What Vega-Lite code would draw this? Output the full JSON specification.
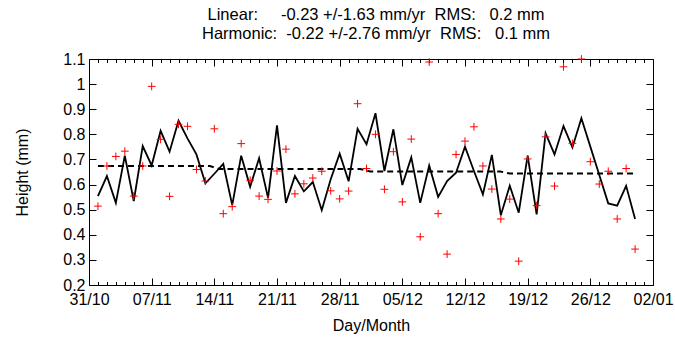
{
  "$schema": "https://vega.github.io/schema/vega-lite/v6.json",
  "width": 564,
  "height": 226,
  "autosize": {"type": "none"},
  "padding": {"left": 89, "top": 59, "right": 22, "bottom": 53},
  "config": {
    "font": "Liberation Sans",
    "view": {"stroke": "black", "strokeWidth": 1},
    "axis": {
      "domain": false,
      "grid": false,
      "labelColor": "black",
      "titleColor": "black",
      "tickColor": "black",
      "labelFontSize": 16,
      "titleFontSize": 16,
      "titleFontWeight": "normal",
      "labelPadding": 11,
      "labelOverlap": false,
      "labelFlush": false,
      "labelBound": false
    }
  },
  "title": {
    "text": [
      "Linear:\u00a0\u00a0\u00a0\u00a0\u00a0-0.23 +/-1.63 mm/yr\u00a0\u00a0RMS:\u00a0\u00a0\u00a00.2 mm",
      "Harmonic:\u00a0\u00a0-0.22 +/-2.76 mm/yr\u00a0\u00a0RMS:\u00a0\u00a0\u00a00.1 mm"
    ],
    "fontSize": 16.5,
    "fontWeight": "normal",
    "color": "black",
    "anchor": "middle",
    "frame": "group",
    "lineHeight": 19,
    "offset": 9,
    "dx": 5
  },
  "datasets": {
    "obs": [
      {"date": "2012-11-01", "height": 0.514},
      {"date": "2012-11-02", "height": 0.674},
      {"date": "2012-11-03", "height": 0.712},
      {"date": "2012-11-04", "height": 0.733},
      {"date": "2012-11-05", "height": 0.554},
      {"date": "2012-11-06", "height": 0.674},
      {"date": "2012-11-07", "height": 0.991},
      {"date": "2012-11-08", "height": 0.78},
      {"date": "2012-11-09", "height": 0.553},
      {"date": "2012-11-10", "height": 0.84},
      {"date": "2012-11-11", "height": 0.832},
      {"date": "2012-11-12", "height": 0.66},
      {"date": "2012-11-13", "height": 0.614},
      {"date": "2012-11-14", "height": 0.822},
      {"date": "2012-11-15", "height": 0.484},
      {"date": "2012-11-16", "height": 0.512},
      {"date": "2012-11-17", "height": 0.763},
      {"date": "2012-11-18", "height": 0.617},
      {"date": "2012-11-19", "height": 0.554},
      {"date": "2012-11-20", "height": 0.541},
      {"date": "2012-11-21", "height": 0.654},
      {"date": "2012-11-22", "height": 0.741},
      {"date": "2012-11-23", "height": 0.563},
      {"date": "2012-11-24", "height": 0.603},
      {"date": "2012-11-25", "height": 0.626},
      {"date": "2012-11-26", "height": 0.653},
      {"date": "2012-11-27", "height": 0.575},
      {"date": "2012-11-28", "height": 0.543},
      {"date": "2012-11-29", "height": 0.574},
      {"date": "2012-11-30", "height": 0.922},
      {"date": "2012-12-01", "height": 0.664},
      {"date": "2012-12-02", "height": 0.8},
      {"date": "2012-12-03", "height": 0.581},
      {"date": "2012-12-04", "height": 0.731},
      {"date": "2012-12-05", "height": 0.531},
      {"date": "2012-12-06", "height": 0.781},
      {"date": "2012-12-07", "height": 0.392},
      {"date": "2012-12-08", "height": 1.088},
      {"date": "2012-12-09", "height": 0.484},
      {"date": "2012-12-10", "height": 0.323},
      {"date": "2012-12-11", "height": 0.72},
      {"date": "2012-12-12", "height": 0.773},
      {"date": "2012-12-13", "height": 0.83},
      {"date": "2012-12-14", "height": 0.674},
      {"date": "2012-12-15", "height": 0.582},
      {"date": "2012-12-16", "height": 0.463},
      {"date": "2012-12-17", "height": 0.542},
      {"date": "2012-12-18", "height": 0.295},
      {"date": "2012-12-19", "height": 0.702},
      {"date": "2012-12-20", "height": 0.516},
      {"date": "2012-12-21", "height": 0.79},
      {"date": "2012-12-22", "height": 0.594},
      {"date": "2012-12-23", "height": 1.069},
      {"date": "2012-12-24", "height": 0.764},
      {"date": "2012-12-25", "height": 1.1},
      {"date": "2012-12-26", "height": 0.691},
      {"date": "2012-12-27", "height": 0.602},
      {"date": "2012-12-28", "height": 0.653},
      {"date": "2012-12-29", "height": 0.463},
      {"date": "2012-12-30", "height": 0.664},
      {"date": "2012-12-31", "height": 0.343}
    ],
    "harmonic": [
      {"date": "2012-11-01", "height": 0.554},
      {"date": "2012-11-02", "height": 0.634},
      {"date": "2012-11-03", "height": 0.527},
      {"date": "2012-11-04", "height": 0.715},
      {"date": "2012-11-05", "height": 0.534},
      {"date": "2012-11-06", "height": 0.753},
      {"date": "2012-11-07", "height": 0.676},
      {"date": "2012-11-08", "height": 0.814},
      {"date": "2012-11-09", "height": 0.731},
      {"date": "2012-11-10", "height": 0.854},
      {"date": "2012-11-11", "height": 0.784},
      {"date": "2012-11-12", "height": 0.72},
      {"date": "2012-11-13", "height": 0.605},
      {"date": "2012-11-14", "height": 0.643},
      {"date": "2012-11-15", "height": 0.682},
      {"date": "2012-11-16", "height": 0.518},
      {"date": "2012-11-17", "height": 0.715},
      {"date": "2012-11-18", "height": 0.591},
      {"date": "2012-11-19", "height": 0.705},
      {"date": "2012-11-20", "height": 0.547},
      {"date": "2012-11-21", "height": 0.836},
      {"date": "2012-11-22", "height": 0.527},
      {"date": "2012-11-23", "height": 0.634},
      {"date": "2012-11-24", "height": 0.573},
      {"date": "2012-11-25", "height": 0.61},
      {"date": "2012-11-26", "height": 0.498},
      {"date": "2012-11-27", "height": 0.621},
      {"date": "2012-11-28", "height": 0.723},
      {"date": "2012-11-29", "height": 0.613},
      {"date": "2012-11-30", "height": 0.822},
      {"date": "2012-12-01", "height": 0.761},
      {"date": "2012-12-02", "height": 0.884},
      {"date": "2012-12-03", "height": 0.654},
      {"date": "2012-12-04", "height": 0.82},
      {"date": "2012-12-05", "height": 0.598},
      {"date": "2012-12-06", "height": 0.708},
      {"date": "2012-12-07", "height": 0.527},
      {"date": "2012-12-08", "height": 0.676},
      {"date": "2012-12-09", "height": 0.551},
      {"date": "2012-12-10", "height": 0.614},
      {"date": "2012-12-11", "height": 0.647},
      {"date": "2012-12-12", "height": 0.751},
      {"date": "2012-12-13", "height": 0.654},
      {"date": "2012-12-14", "height": 0.561},
      {"date": "2012-12-15", "height": 0.718},
      {"date": "2012-12-16", "height": 0.478},
      {"date": "2012-12-17", "height": 0.595},
      {"date": "2012-12-18", "height": 0.488},
      {"date": "2012-12-19", "height": 0.715},
      {"date": "2012-12-20", "height": 0.481},
      {"date": "2012-12-21", "height": 0.804},
      {"date": "2012-12-22", "height": 0.72},
      {"date": "2012-12-23", "height": 0.833},
      {"date": "2012-12-24", "height": 0.748},
      {"date": "2012-12-25", "height": 0.864},
      {"date": "2012-12-26", "height": 0.751},
      {"date": "2012-12-27", "height": 0.638},
      {"date": "2012-12-28", "height": 0.525},
      {"date": "2012-12-29", "height": 0.516},
      {"date": "2012-12-30", "height": 0.595},
      {"date": "2012-12-31", "height": 0.463}
    ],
    "linear": [
      {"date": "2012-11-01T00:00:00Z", "height": 0.674},
      {"date": "2012-11-13T12:00:00Z", "height": 0.674},
      {"date": "2012-11-14T14:00:00Z", "height": 0.662},
      {"date": "2012-11-30T07:00:00Z", "height": 0.662},
      {"date": "2012-12-01T10:00:00Z", "height": 0.652},
      {"date": "2012-12-15T22:00:00Z", "height": 0.652},
      {"date": "2012-12-17T00:00:00Z", "height": 0.644},
      {"date": "2012-12-31T00:00:00Z", "height": 0.644}
    ]
  },
  "resolve": {"axis": {"x": "independent", "y": "independent"}},
  "layer": [
    {
      "data": {"name": "linear"},
      "mark": {"type": "line", "color": "black", "strokeWidth": 2, "strokeDash": [6, 4]},
      "encoding": {
        "x": {
          "field": "date", "type": "temporal",
          "scale": {"type": "utc", "domain": [{"year": 2012, "month": 10, "date": 31, "utc": true}, {"year": 2013, "month": 1, "date": 2, "utc": true}]},
          "axis": {
            "orient": "bottom",
            "title": "Day/Month",
            "titlePadding": 7,
            "labelPadding": 13,
            "tickCount": {"interval": "day", "step": 1},
            "tickSize": {"condition": {"test": "round((datum.value - utc(2012, 9, 31)) / 864e5) % 7 == 0", "value": -7}, "value": -3.5},
            "labelExpr": "round((datum.value - utc(2012, 9, 31)) / 864e5) % 7 == 0 ? utcFormat(datum.value, '%d/%m') : ''"
          }
        },
        "y": {
          "field": "height", "type": "quantitative",
          "scale": {"domain": [0.2, 1.1], "nice": false, "zero": false},
          "axis": {
            "orient": "left",
            "title": "Height (mm)",
            "titlePadding": 32,
            "values": [0.2, 0.3, 0.4, 0.5, 0.6, 0.7, 0.8, 0.9, 1.0, 1.1],
            "format": ".1~f",
            "tickSize": -7
          }
        }
      }
    },
    {
      "data": {"name": "harmonic"},
      "mark": {"type": "line", "color": "black", "strokeWidth": 1.8},
      "encoding": {
        "x": {
          "field": "date", "type": "temporal",
          "axis": {
            "orient": "top",
            "title": null,
            "labels": false,
            "tickCount": {"interval": "day", "step": 1},
            "tickSize": {"condition": {"test": "round((datum.value - utc(2012, 9, 31)) / 864e5) % 7 == 0", "value": -7}, "value": -3.5}
          }
        },
        "y": {
          "field": "height", "type": "quantitative",
          "axis": {
            "orient": "right",
            "title": null,
            "labels": false,
            "values": [0.2, 0.3, 0.4, 0.5, 0.6, 0.7, 0.8, 0.9, 1.0, 1.1],
            "tickSize": -7
          }
        }
      }
    },
    {
      "data": {"name": "obs"},
      "mark": {"type": "point", "shape": "M-1,0H1M0,-1V1", "filled": false, "color": "#ff0000", "strokeWidth": 1, "size": 60, "opacity": 1},
      "encoding": {
        "x": {"field": "date", "type": "temporal", "axis": null},
        "y": {"field": "height", "type": "quantitative", "axis": null}
      }
    }
  ]
}
